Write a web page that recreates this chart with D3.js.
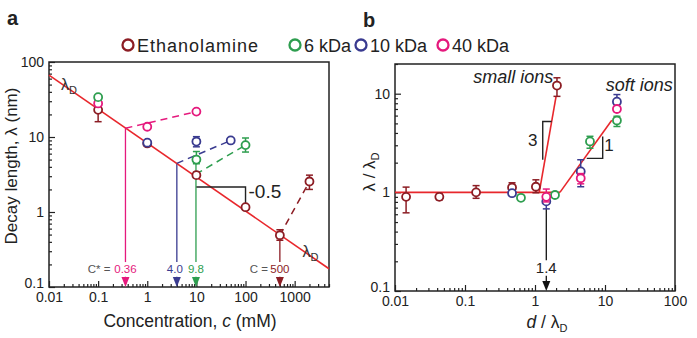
<!DOCTYPE html>
<html>
<head>
<meta charset="utf-8">
<script src="https://cdn.jsdelivr.net/npm/d3@7"></script>
<style>
body { margin: 0; background: #fff; }
text { font-family: "Liberation Sans", Arial, sans-serif; fill: #222; }
</style>
</head>
<body>
<svg id="chart" width="697" height="338"></svg>
<script>
// colours
const colEth = "#8c1d24", colG = "#2e9e4f", colB = "#3a3b90", colP = "#e5197d", colRed = "#e8272c";

// ---- panel a data (c in mM, lambda in nm) ----
const ethC = [0.1, 1, 10, 100, 500, 2000];
const ethLam = [23, 8.2, 3.1, 1.16, 0.49, 2.55];
const ethLo = [16, 7.7, 2.85, 1.1, 0.42, 2.0];
const ethHi = [29.6, 8.8, 3.4, 1.22, 0.58, 3.1];

const g6C = [0.1, 10, 100];
const g6Lam = [34, 5.0, 7.8];
const g6Lo = [31, 4.4, 6.3];
const g6Hi = [36, 6.4, 9.7];

const b10C = [1, 10, 50];
const b10Lam = [8.4, 8.7, 9.0];
const b10Lo = [7.9, 7.4, 8.3];
const b10Hi = [8.9, 10.1, 9.7];

const p40C = [0.1, 1, 10];
const p40Lam = [28, 13.7, 21.8];
const p40Lo = [26, 12.9, 20.6];
const p40Hi = [30, 14.5, 23];

const debyeC = [0.01, 5000];
const debyeLam = [67, 0.175];

// dashed guides and C* markers
const pinkDashC = [0.36, 10], pinkDashLam = [13.1, 21.8];
const blueDashC = [4.0, 50], blueDashLam = [4.45, 9.0];
const greenDashC = [9.8, 100], greenDashLam = [3.2, 7.8];
const redDashC = [500, 2000], redDashLam = [0.49, 2.55];

const starC = [0.36, 4.0, 9.8, 500];
const starTop = [13.1, 4.45, 5.0, 0.42];
const starLabels = ["0.36", "4.0", "9.8", "500"];
const starColors = [colP, colB, colG, colEth];

const slopeAC = [10, 100, 100], slopeALam = [2.15, 2.15, 1.16];

// ---- panel b data (d/lambdaD, lambda/lambdaD) ----
const ethD = [0.0144, 0.043, 0.144, 0.47, 1.03, 2.06];
const ethR = [0.9, 0.9, 1.0, 1.12, 1.14, 12.1];
const ethRLo = [0.62, 0.84, 0.87, 1.02, 0.99, 9.4];
const ethRHi = [1.13, 0.97, 1.17, 1.25, 1.34, 14.5];

const g6D = [0.63, 1.93, 6.1, 14.8];
const g6R = [0.88, 0.94, 3.28, 5.35];
const g6RLo = [0.86, 0.9, 2.8, 4.65];
const g6RHi = [0.9, 0.98, 3.7, 5.9];

const b10D = [0.47, 1.45, 4.5, 14.8];
const b10R = [0.98, 0.81, 1.63, 8.3];
const b10RLo = [0.95, 0.68, 1.14, 7.3];
const b10RHi = [1.02, 0.95, 2.14, 9.8];

const p40D = [1.45, 4.5, 14.8];
const p40R = [0.9, 1.39, 7.0];
const p40RLo = [0.8, 1.22, 6.6];
const p40RHi = [1.08, 1.55, 7.4];

const flatD = [0.01, 2.27], flatR = [1, 1];
const smallD = [1.15, 2.0], smallR = [1, 9.4];
const softD = [2.27, 12.5], softR = [1, 5.38];

const tri3D = [1.73, 1.29, 1.29], tri3R = [5.23, 5.23, 2.14];
const tri1D = [5.48, 9.27, 9.27], tri1R = [2.21, 2.21, 3.68];

const svg = d3.select("#chart");

// log axes with inward ticks and a closed frame
function frame(x, y, xMajors, yMajors) {
    const g = svg.append("g");
    const [x0, x1] = x.range(), [y0, y1] = y.range();
    const xMin = x.ticks().filter(v => !xMajors.some(m => Math.abs(v / m - 1) < 1e-6));
    const yMin = y.ticks().filter(v => !yMajors.some(m => Math.abs(v / m - 1) < 1e-6));
    const fmt = d => d3.format("~g")(d);

    g.append("g").attr("transform", `translate(0,${y0})`)
        .call(d3.axisBottom(x).tickValues(xMin).tickSize(-3).tickFormat(""));
    g.append("g").attr("transform", `translate(0,${y0})`)
        .call(d3.axisBottom(x).tickValues(xMajors).tickSize(-6).tickPadding(5).tickFormat(fmt));
    g.append("g").attr("transform", `translate(${x0},0)`)
        .call(d3.axisLeft(y).tickValues(yMin).tickSize(-3).tickFormat(""));
    const yAx = g.append("g").attr("transform", `translate(${x0},0)`)
        .call(d3.axisLeft(y).tickValues(yMajors).tickSize(-6).tickPadding(5).tickFormat(fmt));

    g.selectAll(".domain").remove();
    g.selectAll(".tick line").attr("stroke", "#222").attr("stroke-width", 1.2);
    g.selectAll(".tick text").attr("font-size", 14).attr("fill", "#222")
        .attr("font-family", "Liberation Sans, Arial, sans-serif");
    // lift the lowest y label off the corner, as in the figure
    yAx.selectAll(".tick text").filter(d => d === yMajors[0]).attr("y", -4);

    g.append("rect")
        .attr("x", x0).attr("y", y1)
        .attr("width", x1 - x0).attr("height", y0 - y1)
        .attr("fill", "none").attr("stroke", "#222").attr("stroke-width", 1.5);
}

function path(x, y, xs, ys, color, width, dash) {
    svg.append("path")
        .datum(xs.map((v, i) => [v, ys[i]]))
        .attr("fill", "none")
        .attr("stroke", color)
        .attr("stroke-width", width)
        .attr("stroke-dasharray", dash || null)
        .attr("d", d3.line().x(d => x(d[0])).y(d => y(d[1])));
}

function points(x, y, xs, ys, lo, hi, color) {
    const g = svg.append("g");
    xs.forEach((v, i) => {
        const px = x(v);
        g.append("line").attr("x1", px).attr("x2", px)
            .attr("y1", y(lo[i])).attr("y2", y(hi[i]))
            .attr("stroke", color).attr("stroke-width", 1.5);
        [lo[i], hi[i]].forEach(e => {
            g.append("line").attr("x1", px - 3.5).attr("x2", px + 3.5)
                .attr("y1", y(e)).attr("y2", y(e))
                .attr("stroke", color).attr("stroke-width", 1.5);
        });
    });
    g.selectAll("circle").data(xs).enter().append("circle")
        .attr("cx", d => x(d))
        .attr("cy", (d, i) => y(ys[i]))
        .attr("r", 4)
        .attr("fill", "#fff")
        .attr("stroke", color)
        .attr("stroke-width", 1.8);
}

function arrowHead(px, py, color) {
    svg.append("path")
        .attr("d", `M${px - 4},${py - 10}L${px + 4},${py - 10}L${px},${py}Z`)
        .attr("fill", color);
}

function lambdaD(px, py) {
    const t = svg.append("text").attr("x", px).attr("y", py)
        .attr("font-size", 16).style("fill", "#333");
    t.append("tspan").text("λ");
    t.append("tspan").attr("font-size", 11).attr("dy", 4).text("D");
}

// ================= panel a =================
const xA = d3.scaleLog().domain([0.01, 5000]).range([49, 329]);
const yA = d3.scaleLog().domain([0.1, 100]).range([287, 62]);

frame(xA, yA, [0.01, 0.1, 1, 10, 100, 1000], [0.1, 1, 10, 100]);

// C* vertical markers
starC.forEach((c, i) => {
    const px = xA(c);
    svg.append("line").attr("x1", px).attr("x2", px)
        .attr("y1", yA(starTop[i])).attr("y2", yA(0.215))
        .attr("stroke", starColors[i]).attr("stroke-width", 1.3);
    svg.append("line").attr("x1", px).attr("x2", px)
        .attr("y1", yA(0.137)).attr("y2", yA(0.11))
        .attr("stroke", starColors[i]).attr("stroke-width", 1.3);
    arrowHead(px, yA(0.1), starColors[i]);
    svg.append("text").attr("x", px + (i === 1 ? -2 : 0)).attr("y", yA(0.152))
        .attr("text-anchor", "middle").attr("font-size", 11.5)
        .style("fill", starColors[i])
        .text(starLabels[i]);
});
svg.append("text").attr("x", xA(0.36) - 15).attr("y", yA(0.152))
    .attr("text-anchor", "end").attr("font-size", 11.5).style("fill", "#555").text("C* =");
svg.append("text").attr("x", xA(500) - 12).attr("y", yA(0.152))
    .attr("text-anchor", "end").attr("font-size", 11.5).style("fill", "#555").text("C =");

path(xA, yA, debyeC, debyeLam, colRed, 1.6);
path(xA, yA, pinkDashC, pinkDashLam, colP, 1.5, "7,5");
path(xA, yA, blueDashC, blueDashLam, colB, 1.5, "7,5");
path(xA, yA, greenDashC, greenDashLam, colG, 1.5, "7,5");
path(xA, yA, redDashC, redDashLam, colEth, 1.5, "7,5");
path(xA, yA, slopeAC, slopeALam, "#222", 1.4);

points(xA, yA, ethC, ethLam, ethLo, ethHi, colEth);
points(xA, yA, p40C, p40Lam, p40Lo, p40Hi, colP);
points(xA, yA, b10C, b10Lam, b10Lo, b10Hi, colB);
points(xA, yA, g6C, g6Lam, g6Lo, g6Hi, colG);

svg.append("text").attr("x", xA(100) + 3).attr("y", yA(1.52))
    .attr("font-size", 19).text("-0.5");
lambdaD(xA(0.0175), yA(42));
lambdaD(xA(1450), yA(0.25));

// axis titles a
const tA = svg.append("text").attr("x", 190).attr("y", 327)
    .attr("text-anchor", "middle").attr("font-size", 17.5);
tA.append("tspan").text("Concentration, ");
tA.append("tspan").attr("font-style", "italic").text("c");
tA.append("tspan").text(" (mM)");
svg.append("text").attr("transform", "translate(17,166) rotate(-90)")
    .attr("text-anchor", "middle").attr("font-size", 17)
    .text("Decay length, λ (nm)");

// ================= panel b =================
const xB = d3.scaleLog().domain([0.01, 100]).range([395, 675]);
const yB = d3.scaleLog().domain([0.1, 20]).range([291, 64]);

frame(xB, yB, [0.01, 0.1, 1, 10, 100], [0.1, 1, 10]);

path(xB, yB, flatD, flatR, colRed, 1.6);
path(xB, yB, smallD, smallR, colRed, 1.6);
path(xB, yB, softD, softR, colRed, 1.6);
path(xB, yB, tri3D, tri3R, "#222", 1.4);
path(xB, yB, tri1D, tri1R, "#222", 1.4);

// 1.4 marker
svg.append("line").attr("x1", xB(1.45)).attr("x2", xB(1.45))
    .attr("y1", yB(0.68)).attr("y2", yB(0.205))
    .attr("stroke", "#111").attr("stroke-width", 1.3);
svg.append("line").attr("x1", xB(1.45)).attr("x2", xB(1.45))
    .attr("y1", yB(0.143)).attr("y2", yB(0.115))
    .attr("stroke", "#111").attr("stroke-width", 1.3);
arrowHead(xB(1.45), yB(0.1), "#111");
svg.append("text").attr("x", xB(1.45)).attr("y", yB(0.152))
    .attr("text-anchor", "middle").attr("font-size", 15).text("1.4");

points(xB, yB, ethD, ethR, ethRLo, ethRHi, colEth);
points(xB, yB, g6D, g6R, g6RLo, g6RHi, colG);
points(xB, yB, b10D, b10R, b10RLo, b10RHi, colB);
points(xB, yB, p40D, p40R, p40RLo, p40RHi, colP);

svg.append("text").attr("x", xB(0.93)).attr("y", yB(3.4) + 6)
    .attr("text-anchor", "middle").attr("font-size", 17).text("3");
svg.append("text").attr("x", xB(11.4)).attr("y", yB(3.03) + 6)
    .attr("text-anchor", "middle").attr("font-size", 17).text("1");
svg.append("text").attr("x", xB(1.82)).attr("y", yB(12.9))
    .attr("text-anchor", "end").attr("font-size", 18)
    .attr("font-style", "italic").text("small ions");
svg.append("text").attr("x", xB(93)).attr("y", yB(10.7))
    .attr("text-anchor", "end").attr("font-size", 18)
    .attr("font-style", "italic").text("soft ions");

// axis titles b
const tB = svg.append("text").attr("x", 547).attr("y", 328)
    .attr("text-anchor", "middle").attr("font-size", 17.5);
tB.append("tspan").attr("font-style", "italic").text("d");
tB.append("tspan").text(" /  λ");
tB.append("tspan").attr("font-size", 11).attr("dy", 4).text("D");
const yT = svg.append("text").attr("transform", "translate(375,172) rotate(-90)")
    .attr("text-anchor", "middle").attr("font-size", 17);
yT.append("tspan").text("λ /  λ");
yT.append("tspan").attr("font-size", 11).attr("dy", 4).text("D");

// ================= legend and panel letters =================
const legNames = ["Ethanolamine", "6 kDa", "10 kDa", "40 kDa"];
const legColors = [colEth, colG, colB, colP];
const legX = [128, 295, 361, 443];
legNames.forEach((n, i) => {
    svg.append("circle").attr("cx", legX[i]).attr("cy", 45).attr("r", 5.5)
        .attr("fill", "none").attr("stroke", legColors[i]).attr("stroke-width", 2.3);
    svg.append("text").attr("x", legX[i] + 9).attr("y", 51.5)
        .attr("font-size", 18)
        .attr("letter-spacing", i === 0 ? 1 : 0)
        .text(n);
});
svg.append("text").attr("x", 7).attr("y", 25).attr("font-size", 20)
    .attr("font-weight", "bold").text("a");
svg.append("text").attr("x", 363).attr("y", 27).attr("font-size", 20)
    .attr("font-weight", "bold").text("b");
</script>
</body>
</html>
